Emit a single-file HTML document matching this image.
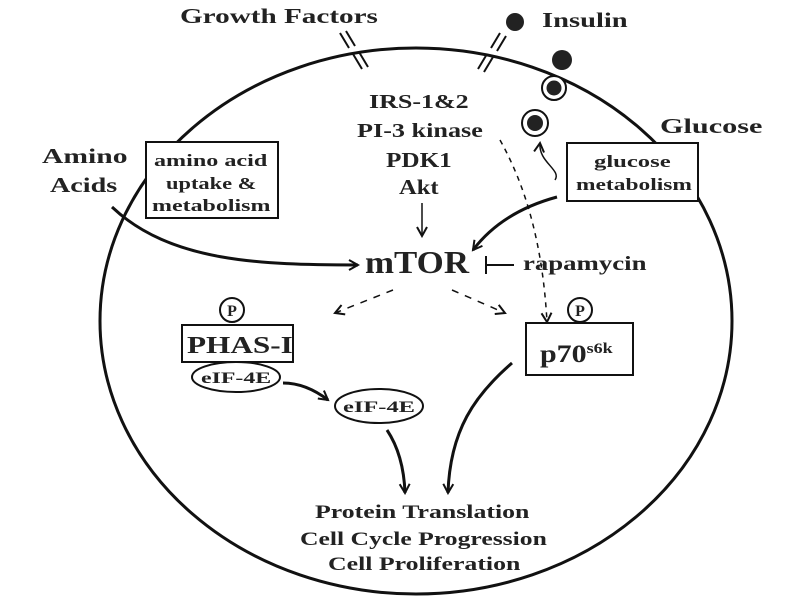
<!DOCTYPE html>
<html><head><style>body{margin:0;background:#fff}svg{display:block}text{font-family:"Liberation Serif",serif;font-weight:bold;fill:#222}</style></head>
<body>
<svg width="800" height="600" viewBox="0 0 800 600">
<defs>
<marker id="a" markerWidth="12" markerHeight="12" refX="10" refY="6" orient="auto" markerUnits="userSpaceOnUse"><path d="M1,1 L10,6 L1,11" fill="none" stroke="#111" stroke-width="2"/></marker>
</defs>
<ellipse cx="416" cy="321" rx="316" ry="273" fill="none" stroke="#111" stroke-width="3"/>
<g stroke="#111" stroke-width="2" fill="none">
<path d="M340,33 L349,48 M353,54 L362,69 M346,31 L355,46 M359,52 L368,67"/>
<path d="M500,33 L491,48 M487,54 L478,69 M506,36 L497,51 M493,57 L484,72"/>
</g>
<circle cx="515" cy="22" r="9" fill="#222"/>
<circle cx="562" cy="60" r="10" fill="#222"/>
<circle cx="554" cy="88" r="12" fill="#fff" stroke="#111" stroke-width="2"/><circle cx="554" cy="88" r="7.5" fill="#222"/>
<circle cx="535" cy="123" r="13" fill="#fff" stroke="#111" stroke-width="2"/><circle cx="535" cy="123" r="8" fill="#222"/>
<text transform="translate(180,23) scale(1.39,1)" font-size="21">Growth Factors</text>
<text transform="translate(542,27) scale(1.36,1)" font-size="21">Insulin</text>
<text transform="translate(660,133) scale(1.44,1)" font-size="21">Glucose</text>
<text transform="translate(369,108) scale(1.30,1)" font-size="20">IRS-1&amp;2</text>
<text transform="translate(357,137) scale(1.31,1)" font-size="20">PI-3 kinase</text>
<text transform="translate(386,167) scale(1.2,1)" font-size="21">PDK1</text>
<text transform="translate(399,194) scale(1.17,1)" font-size="21">Akt</text>
<text transform="translate(365,273) scale(1.09,1)" font-size="32">mTOR</text>
<text transform="translate(523,270) scale(1.34,1)" font-size="20">rapamycin</text>
<text transform="translate(42,163) scale(1.41,1)" font-size="21">Amino</text>
<text transform="translate(50,192) scale(1.34,1)" font-size="21">Acids</text>
<line x1="422" y1="203" x2="422" y2="236" stroke="#111" stroke-width="1.5" marker-end="url(#a)"/>
<path d="M486,256 V274 M486,265 H514" stroke="#111" stroke-width="2" fill="none"/>
<rect x="146" y="142" width="132" height="76" fill="#fff" stroke="#111" stroke-width="2"/>
<text transform="translate(154,166) scale(1.42,1)" font-size="17">amino acid</text>
<text transform="translate(166,189) scale(1.32,1)" font-size="17">uptake &amp;</text>
<text transform="translate(152,211) scale(1.41,1)" font-size="17">metabolism</text>
<rect x="567" y="143" width="131" height="58" fill="#fff" stroke="#111" stroke-width="2"/>
<text transform="translate(594,167) scale(1.45,1)" font-size="17">glucose</text>
<text transform="translate(576,190) scale(1.38,1)" font-size="17">metabolism</text>
<g fill="none" stroke="#111">
<path d="M112,207 C170,262 260,265 358,265" stroke-width="3" marker-end="url(#a)"/>
<path d="M557,197 C520,207 492,225 473,250" stroke-width="3" marker-end="url(#a)"/>
<path d="M555,180 C562,170 538,162 540,143" stroke-width="1.5" marker-end="url(#a)"/>
<path d="M500,140 C528,190 543,250 547,322" stroke-width="1.5" stroke-dasharray="5,5" marker-end="url(#a)"/>
<path d="M393,290 L335,313" stroke-width="1.5" stroke-dasharray="7,7" marker-end="url(#a)"/>
<path d="M452,290 L505,313" stroke-width="1.5" stroke-dasharray="7,7" marker-end="url(#a)"/>
<path d="M283,383 C300,383 315,390 328,400" stroke-width="3" marker-end="url(#a)"/>
<path d="M387,430 C397,445 404,465 405,493" stroke-width="3" marker-end="url(#a)"/>
<path d="M512,363 C475,395 450,430 448,493" stroke-width="3" marker-end="url(#a)"/>
</g>
<circle cx="232" cy="310" r="12" fill="#fff" stroke="#111" stroke-width="2"/>
<text x="232" y="316" font-size="16" text-anchor="middle">P</text>
<rect x="182" y="325" width="111" height="37" fill="#fff" stroke="#111" stroke-width="2"/>
<text transform="translate(187,353) scale(1.3,1)" font-size="24" font-weight="normal">PHAS-I</text>
<ellipse cx="236" cy="377" rx="44" ry="15" fill="#fff" stroke="#111" stroke-width="2"/>
<text transform="translate(201,383) scale(1.49,1)" font-size="16">eIF-4E</text>
<ellipse cx="379" cy="406" rx="44" ry="17" fill="#fff" stroke="#111" stroke-width="2"/>
<text transform="translate(343,412) scale(1.53,1)" font-size="16">eIF-4E</text>
<circle cx="580" cy="310" r="12" fill="#fff" stroke="#111" stroke-width="2"/>
<text x="580" y="316" font-size="16" text-anchor="middle">P</text>
<rect x="526" y="323" width="107" height="52" fill="#fff" stroke="#111" stroke-width="2"/>
<text transform="translate(540,362) scale(1.2,1)" font-size="25">p70<tspan font-size="15" dy="-9">s6k</tspan></text>
<text transform="translate(315,518) scale(1.36,1)" font-size="19">Protein Translation</text>
<text transform="translate(300,545) scale(1.35,1)" font-size="19" font-weight="normal">Cell Cycle Progression</text>
<text transform="translate(328,570) scale(1.36,1)" font-size="19" font-weight="normal">Cell Proliferation</text>
</svg>
</body></html>
